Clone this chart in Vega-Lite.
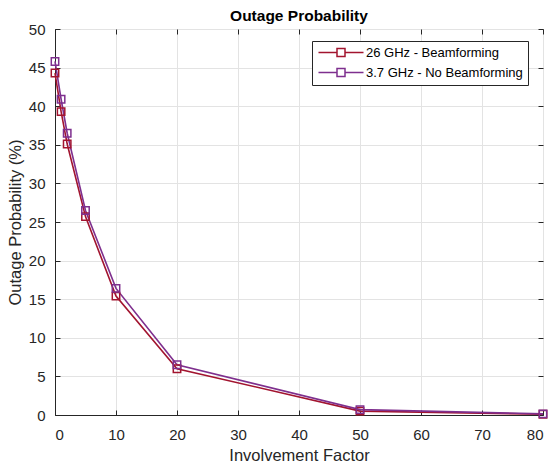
{
  "$schema": "https://vega.github.io/schema/vega-lite/v6.json",
  "autosize": "none",
  "width": 488,
  "height": 386,
  "padding": {"left": 55, "top": 29, "right": 9, "bottom": 50},
  "background": "white",
  "title": {"text": "Outage Probability", "fontSize": 15.5, "font": "Liberation Sans", "fontWeight": "bold", "color": "#000000", "offset": -2},
  "config": {
    "view": {"stroke": "#262626", "strokeWidth": 1},
    "axis": {"labelFont": "Liberation Sans", "titleFont": "Liberation Sans", "labelFontSize": 15, "titleFontSize": 16.5, "labelColor": "#262626", "titleColor": "#262626", "titleFontWeight": "normal", "domainColor": "#262626", "tickColor": "#262626", "gridColor": "#e3e3e3", "gridOpacity": 1, "tickSize": -5}
  },
  "data": {"values": [
    {"x": 0, "y": 44.3, "s": "26 GHz - Beamforming"},
    {"x": 1, "y": 39.3, "s": "26 GHz - Beamforming"},
    {"x": 2, "y": 35.1, "s": "26 GHz - Beamforming"},
    {"x": 5, "y": 25.7, "s": "26 GHz - Beamforming"},
    {"x": 10, "y": 15.4, "s": "26 GHz - Beamforming"},
    {"x": 20, "y": 6.0, "s": "26 GHz - Beamforming"},
    {"x": 50, "y": 0.5, "s": "26 GHz - Beamforming"},
    {"x": 80, "y": 0.1, "s": "26 GHz - Beamforming"},
    {"x": 0, "y": 45.8, "s": "3.7 GHz - No Beamforming"},
    {"x": 1, "y": 40.9, "s": "3.7 GHz - No Beamforming"},
    {"x": 2, "y": 36.5, "s": "3.7 GHz - No Beamforming"},
    {"x": 5, "y": 26.5, "s": "3.7 GHz - No Beamforming"},
    {"x": 10, "y": 16.4, "s": "3.7 GHz - No Beamforming"},
    {"x": 20, "y": 6.5, "s": "3.7 GHz - No Beamforming"},
    {"x": 50, "y": 0.7, "s": "3.7 GHz - No Beamforming"},
    {"x": 80, "y": 0.15, "s": "3.7 GHz - No Beamforming"}
  ]},
  "encoding": {
    "color": {"field": "s", "type": "nominal", "scale": {"domain": ["26 GHz - Beamforming", "3.7 GHz - No Beamforming"], "range": ["#A2142F", "#7E2F8E"]},
      "legend": {"title": null, "orient": "none", "legendX": 257, "legendY": 12, "labelFont": "Liberation Sans", "labelFontSize": 13, "labelColor": "#000000", "strokeColor": "#262626", "fillColor": "white", "padding": 5, "rowPadding": 5,
        "symbolType": "M-1,0H2.7M4.3,0H8M2.7,-0.8H4.3V0.8H2.7Z", "symbolSize": 100, "symbolStrokeWidth": 1.5, "symbolFillColor": "transparent", "labelOffset": 36}}
  },
  "layer": [
    {"mark": {"type": "line", "strokeWidth": 1.6},
     "encoding": {
      "x": {"field": "x", "type": "quantitative", "scale": {"domain": [0, 80], "nice": false}, "axis": {"title": "Involvement Factor", "values": [0,10,20,30,40,50,60,70,80], "labelPadding": 17, "titleY": 32}},
      "y": {"field": "y", "type": "quantitative", "scale": {"domain": [0, 50], "nice": false}, "axis": {"title": "Outage Probability (%)", "values": [0,5,10,15,20,25,30,35,40,45,50], "labelPadding": 15, "titleX": -32}}
     }},
    {"mark": {"type": "point", "shape": "square", "filled": false, "size": 55, "strokeWidth": 1.5, "opacity": 1},
     "encoding": {
      "x": {"field": "x", "type": "quantitative", "axis": {"orient": "top", "labels": false, "grid": false, "title": null, "domain": false, "values": [0,10,20,30,40,50,60,70,80]}},
      "y": {"field": "y", "type": "quantitative", "axis": {"orient": "right", "labels": false, "grid": false, "title": null, "domain": false, "values": [0,5,10,15,20,25,30,35,40,45,50]}}
     }}
  ],
  "resolve": {"axis": {"x": "independent", "y": "independent"}}
}
